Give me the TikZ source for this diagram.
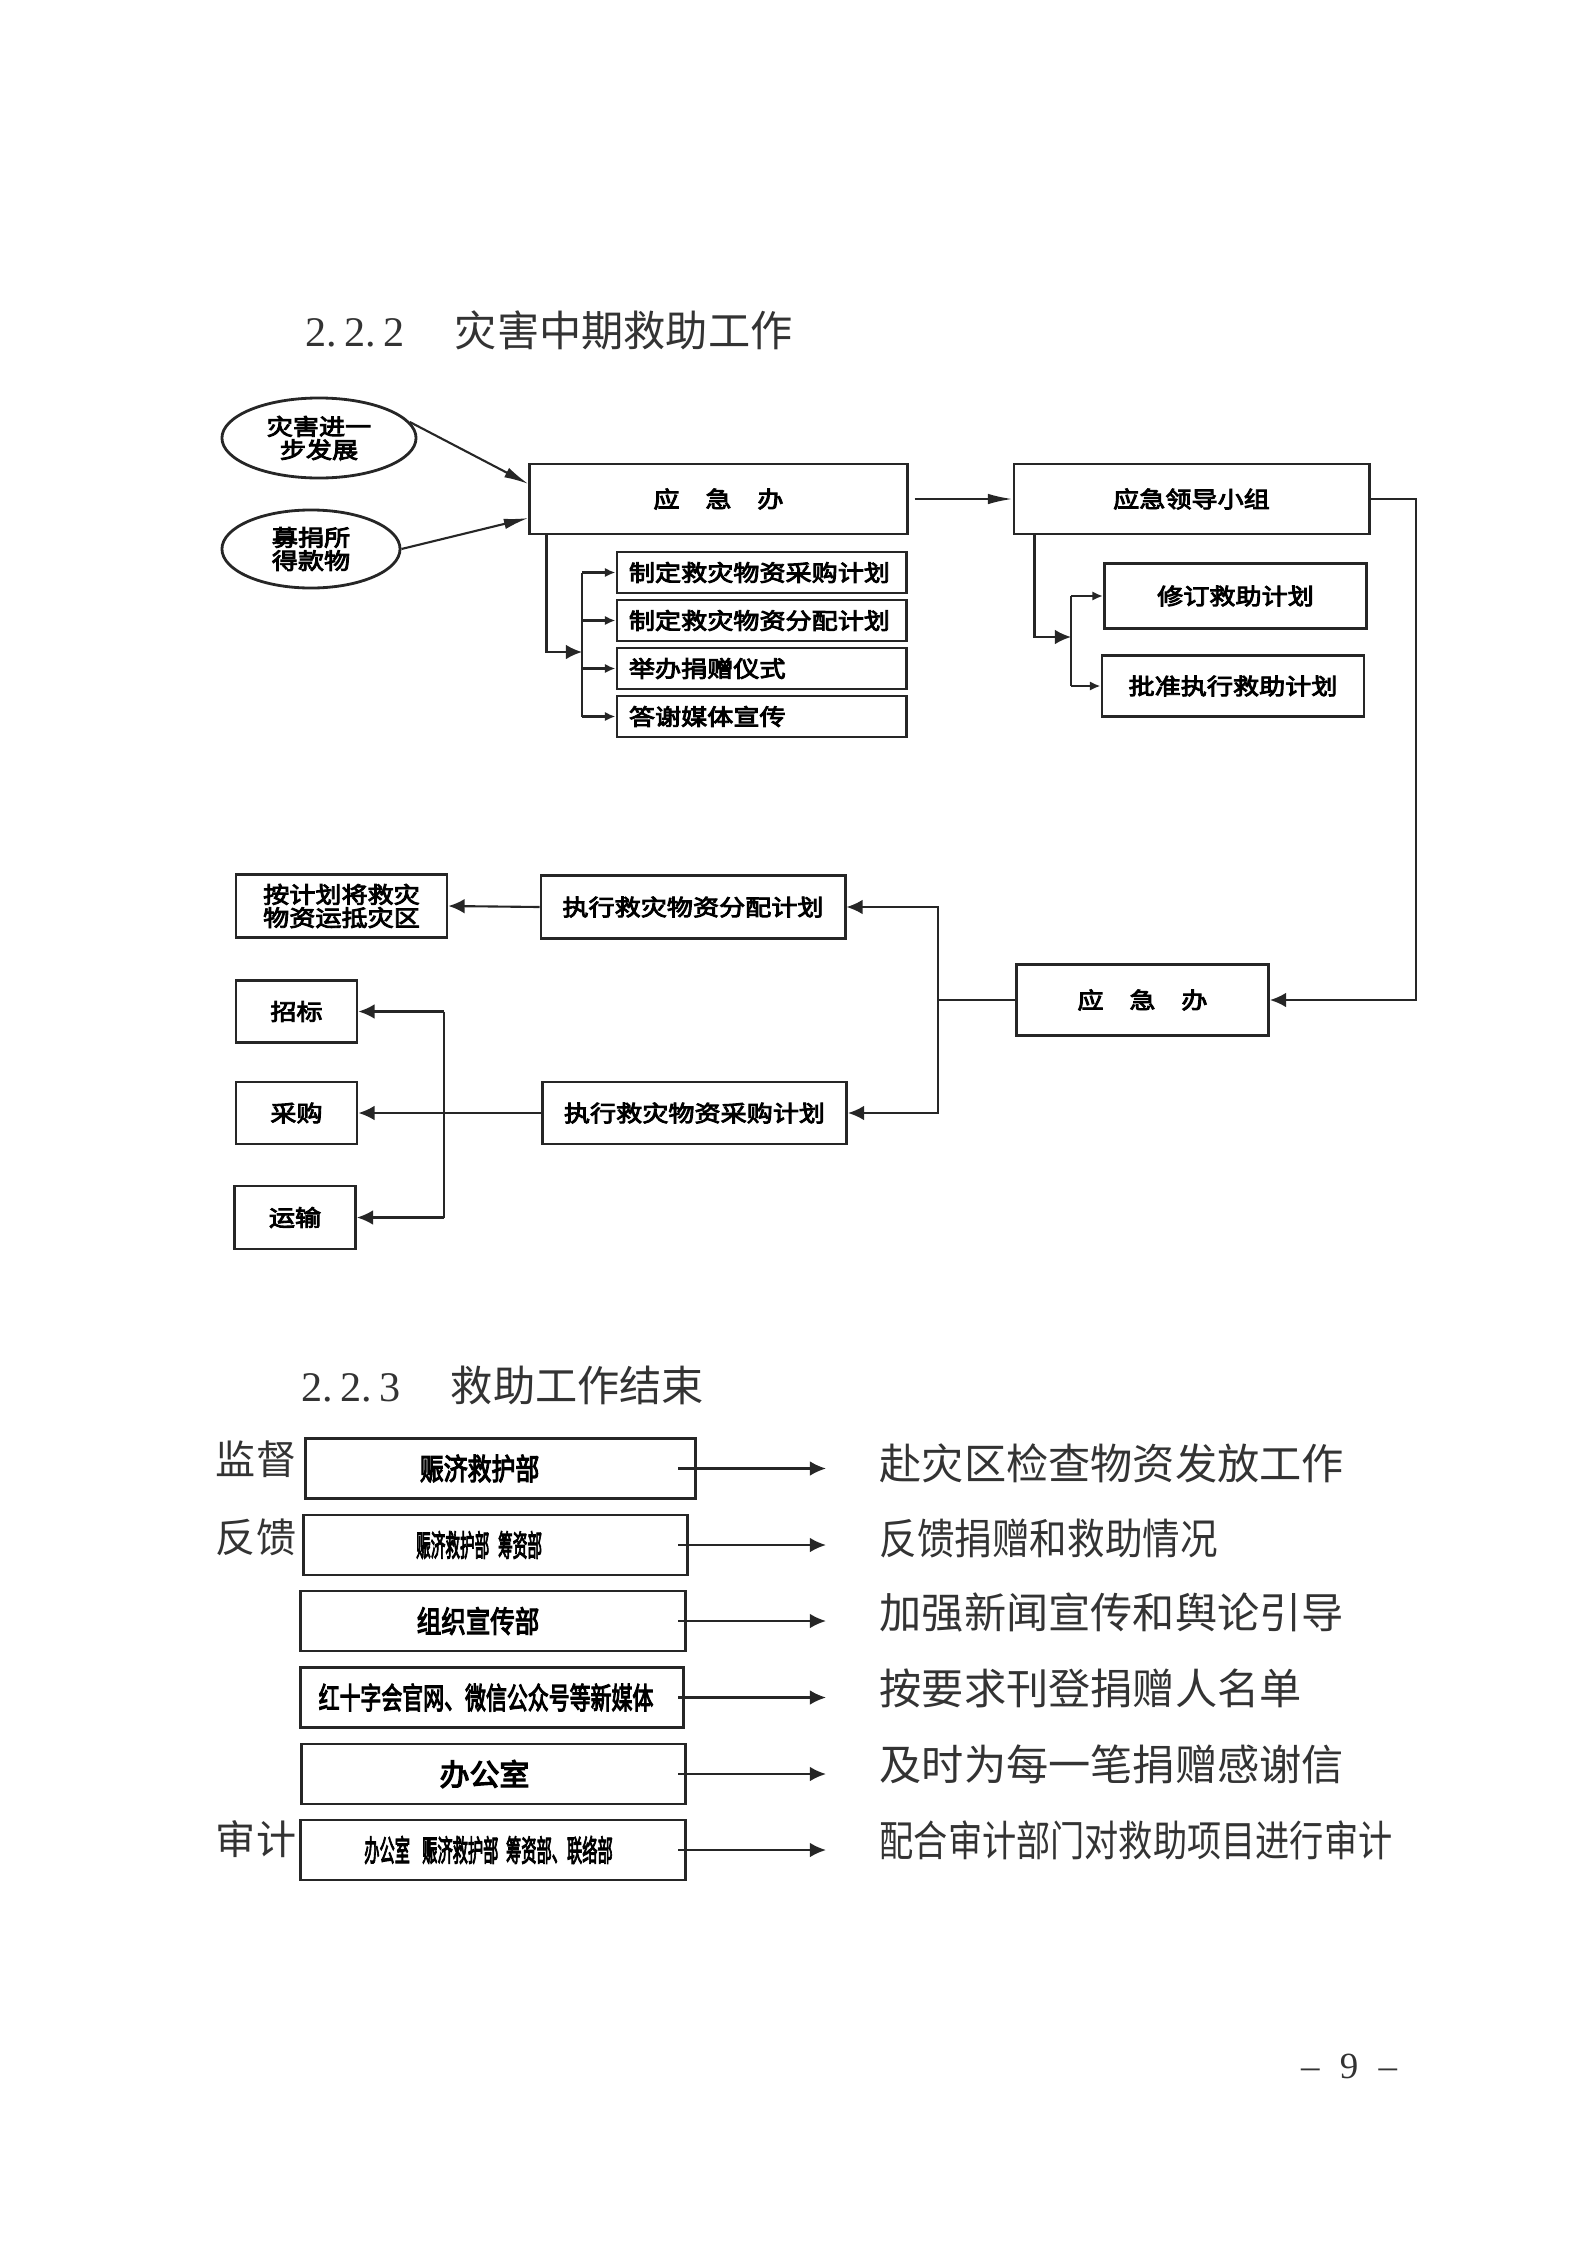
\documentclass[tikz,border=0pt]{standalone}
\usepackage{fontspec}
\usepackage{graphicx}
\setmainfont{Liberation Serif}
\newfontfamily\zhfont{Noto Sans CJK SC}
\newfontfamily\zhbold[FakeBold=4]{Noto Sans CJK SC}
\newfontfamily\zhwide[FakeBold=4,FakeStretch=1.16]{Noto Sans CJK SC}
\usetikzlibrary{arrows.meta,shapes.geometric}
\begin{document}
\begin{tikzpicture}[x=0.01cm,y=-0.01cm,
  ink/.style={draw=black!85, line width=0.8pt},
  box/.style={ink, rectangle, inner sep=0pt, align=center, font=\zhwide\fontsize{6.4}{6.6}\selectfont},
  subbox/.style={box, align=left, text width=2.65cm, inner xsep=0.12cm, minimum height=0.41cm},
  oval/.style={box, ellipse},
  wbox/.style={ink, rectangle, inner sep=0pt, minimum height=0.6cm, font=\zhbold\fontsize{8.5}{10}\selectfont},
  link/.style={draw=black!85, line width=0.6pt},
  arr/.style={link, -{Latex[length=4.6pt,width=4.2pt]}},
  sarr/.style={link, -{Latex[length=3pt,width=2.6pt]}},
  larr/.style={link, -{Latex[length=7pt,width=3pt]}},
  head/.style={anchor=west, inner sep=0pt, text=black!80, font=\fontsize{12}{14}\selectfont},
  note/.style={anchor=west, inner sep=0pt, text=black!80, font=\zhfont\fontsize{12}{14}\selectfont},
  side/.style={inner sep=0pt, text=black!80, font=\zhfont\fontsize{11.4}{13}\selectfont}]

\useasboundingbox (0,0) rectangle (1586,2242);

% 2.2.2
\node[head] (title1) at (305,330) {2.\,2.\,2\hspace{1.2em}{\zhfont 灾害中期救助工作}};

\node[oval, minimum width=1.94cm, minimum height=0.8cm] (grow) at (319,438) {灾害进一\\步发展};
\node[oval, minimum width=1.78cm, minimum height=0.78cm] (fund) at (311,549) {募捐所\\得款物};
\node[box, minimum width=3.77cm, minimum height=0.7cm] (ofc) at (718.5,499) {应\hspace{1.15em}急\hspace{1.15em}办};
\node[subbox] (sub1) at (761.5,572.5) {制定救灾物资采购计划};
\node[subbox] (sub2) at (761.5,620.5) {制定救灾物资分配计划};
\node[subbox] (sub3) at (761.5,668.5) {举办捐赠仪式};
\node[subbox] (sub4) at (761.5,716.5) {答谢媒体宣传};
\node[box, minimum width=3.55cm, minimum height=0.7cm] (lead) at (1191.5,499) {应急领导小组};
\node[box, minimum width=2.62cm, minimum height=0.65cm] (rev) at (1235.5,596) {修订救助计划};
\node[box, minimum width=2.62cm, minimum height=0.61cm] (app) at (1233,686) {批准执行救助计划};
\node[box, minimum width=2.52cm, minimum height=0.71cm] (ofc2) at (1142.5,1000) {应\hspace{1.15em}急\hspace{1.15em}办};
\node[box, minimum width=3.04cm, minimum height=0.63cm] (exec1) at (693,907) {执行救灾物资分配计划};
\node[box, minimum width=3.04cm, minimum height=0.62cm] (exec2) at (694.5,1113) {执行救灾物资采购计划};
\node[box, minimum width=2.11cm, minimum height=0.63cm] (goal) at (341.5,906) {按计划将救灾\\物资运抵灾区};
\node[box, minimum width=1.21cm, minimum height=0.62cm] (bid) at (296.5,1011.5) {招标};
\node[box, minimum width=1.21cm, minimum height=0.62cm] (buy) at (296.5,1113) {采购};
\node[box, minimum width=1.21cm, minimum height=0.63cm] (ship) at (295,1217.5) {运输};

\coordinate (fork1) at (582,652);
\coordinate (fork2) at (1071,637);
\coordinate (rail) at (1416,750);
\coordinate (fork3) at (938,1000);
\coordinate (fork4) at (444,1113);

\draw[larr] (grow.10) -- ([yshift=0.15cm]ofc.west);
\draw[larr] (fund.east) -- ([yshift=-0.19cm]ofc.west);
\draw[larr] ([xshift=0.06cm]ofc.east) -- (lead.west);
\draw[arr] ([xshift=0.18cm]ofc.south west) |- (fork1);
\draw[link] (fork1 |- sub1) -- (fork1 |- sub4);
\foreach \s in {sub1,sub2,sub3,sub4}
  \draw[sarr] (fork1 |- \s) -- (\s.west);
\draw[arr] ([xshift=0.22cm]lead.south west) |- (fork2);
\draw[link] (fork2 |- rev) -- (fork2 |- app);
\draw[sarr] (fork2 |- rev) -- (rev.west);
\draw[sarr] (fork2 |- app) -- (app.west);
\draw[arr] (lead.east) -| (rail) |- (ofc2.east);
\draw[link] (ofc2.west) -- (fork3);
\draw[arr] (fork3) |- (exec1.east);
\draw[arr] (fork3) |- (exec2.east);
\draw[arr] (exec1.west) -- (goal.east);
\draw[arr] (exec2.west) -- (buy.east);
\draw[link] (fork4 |- bid) -- (fork4 |- ship);
\draw[arr] (fork4 |- bid) -- (bid.east);
\draw[arr] (fork4 |- ship) -- (ship.east);

% 2.2.3
\node[head] (title2) at (301,1385) {2.\,2.\,3\hspace{1.2em}{\zhfont 救助工作结束}};

\node[side] (lab1) at (256,1459) {监督};
\node[side] (lab2) at (256,1537) {反馈};
\node[side] (lab3) at (256,1839) {审计};

\node[wbox, minimum width=3.89cm] (b1) at (500.5,1468.5) {\scalebox{0.8}[1]{赈济救护部}\hspace*{1.4em}};
\node[wbox, minimum width=3.83cm] (b2) at (495.5,1545) {\scalebox{0.49}[1]{赈济救护部\hspace{0.6em}筹资部}\hspace*{1.1em}};
\node[wbox, minimum width=3.84cm] (b3) at (493,1621) {\scalebox{0.82}[1]{组织宣传部}\hspace*{1em}};
\node[wbox, minimum width=3.82cm] (b4) at (492,1697.5) {\scalebox{0.7}[1]{红十字会官网、微信公众号等新媒体}\hspace*{0.4em}};
\node[wbox, minimum width=3.83cm] (b5) at (493.5,1774) {办公室\hspace*{0.6em}};
\node[wbox, minimum width=3.84cm] (b6) at (493,1850) {\scalebox{0.51}[1]{办公室\hspace{0.8em}赈济救护部\hspace{0.5em}筹资部、联络部}\hspace*{0.3em}};

\node[note] (t1) at (879,1463) {赴灾区检查物资发放工作};
\node[note] (t2) at (879,1538) {\scalebox{0.89}[1]{反馈捐赠和救助情况}};
\node[note] (t3) at (879,1613) {加强新闻宣传和舆论引导};
\node[note] (t4) at (879,1688) {按要求刊登捐赠人名单};
\node[note] (t5) at (879,1764) {及时为每一笔捐赠感谢信};
\node[note] (t6) at (879,1840) {\scalebox{0.81}[1]{配合审计部门对救助项目进行审计}};

\coordinate (src) at (678,0);
\foreach \i in {1,...,6}
  \draw[arr, shorten >=0.53cm] (b\i.east -| src) -- (b\i.east -| t\i.west);

\node[anchor=base, inner sep=0pt, text=black!80, font=\fontsize{10.5}{12}\selectfont] (page) at (1349,2078) {--\hspace{0.55em}9\hspace{0.55em}--};
\end{tikzpicture}
\end{document}
